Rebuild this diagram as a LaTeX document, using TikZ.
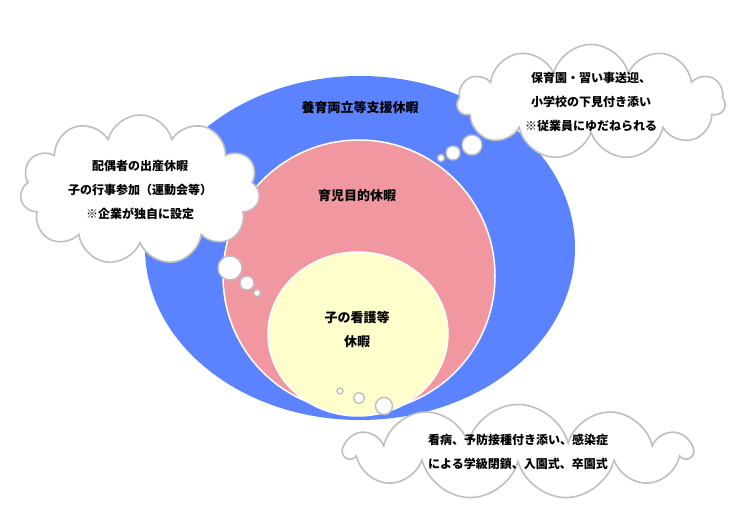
\documentclass[tikz,border=0pt]{standalone}
\usepackage{fontspec}
\newfontfamily\jp{Noto Sans CJK JP}
\usetikzlibrary{shapes.symbols}
\definecolor{cblue}{HTML}{5B83FF}
\definecolor{cpink}{HTML}{F0979F}
\definecolor{cyel}{HTML}{FFFFCC}
\definecolor{cgray}{HTML}{BFBFBF}
\tikzset{
 cloudbox/.style={cloud, cloud puffs=11, cloud ignores aspect, draw=cgray, line width=1.6pt, fill=white, inner sep=0pt},
 ctext/.style={align=center, font=\jp\bfseries\fontsize{12}{24}\selectfont},
 bub/.style={draw=cgray, line width=1.4pt, fill=white},
 ring/.style={draw=white, line width=1.5pt},
 lbl/.style={font=\jp\bfseries\fontsize{13}{24}\selectfont, align=center}
}
\begin{document}
\begin{tikzpicture}[x=1pt,y=-1pt]
\useasboundingbox (0,0) rectangle (736,506);
\fill[cblue] (360,248) ellipse [x radius=215, y radius=172];
\draw[ring,fill=cpink] (359,276) circle [radius=136];
\draw[ring,fill=cyel] (358,334) ellipse [x radius=90, y radius=82];
\node[lbl] (t1) at (360,108) {養育両立等支援休暇};
\node[lbl] (t2) at (357,196) {育児目的休暇};
\node[lbl] (t3) at (357,330) {子の看護等\\休暇};
% left cloud
\node[cloudbox, minimum width=240, minimum height=150] (c1) at (140,190) {};
\node[ctext] (x1) at (c1) {配偶者の出産休暇\\子の行事参加（運動会等）\\※企業が独自に設定};
\draw[bub] (230,268) circle [radius=12];
\draw[bub] (247,283) circle [radius=7];
\draw[bub] (257,293) circle [radius=3.5];
% right cloud
\node[cloudbox, minimum width=268, minimum height=115] (c2) at (591,102) {};
\node[ctext] (x2) at (c2) {保育園・習い事送迎、\\小学校の下見付き添い\\※従業員にゆだねられる};
\draw[bub] (472,145) circle [radius=10];
\draw[bub] (453,153) circle [radius=7];
\draw[bub] (441,158) circle [radius=3.5];
% bottom cloud
\node[cloudbox, minimum width=345, minimum height=95] (c3) at (518,452) {};
\node[ctext] (x3) at (c3) {看病、予防接種付き添い、感染症\\による学級閉鎖、入園式、卒園式};
\draw[bub] (384,406) circle [radius=8.5];
\draw[bub] (359,398) circle [radius=5.5];
\draw[bub] (340,391) circle [radius=3];
\end{tikzpicture}
\end{document}
